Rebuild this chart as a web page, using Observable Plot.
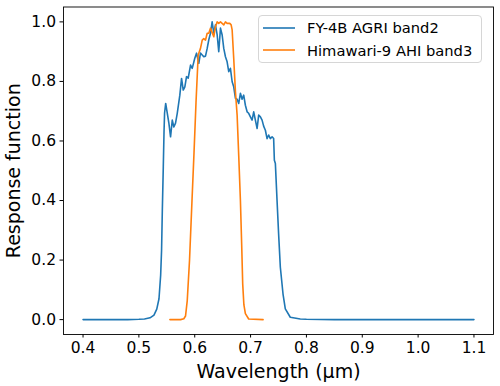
<!DOCTYPE html>
<html>
<head>
<meta charset="utf-8">
<script src="https://cdn.jsdelivr.net/npm/d3@7"></script>
<script src="https://cdn.jsdelivr.net/npm/@observablehq/plot@0.6"></script>
<style>
  html, body { margin: 0; padding: 0; background: #fff; }
  #wrap { position: relative; width: 500px; height: 386px; font-family: "DejaVu Sans", sans-serif; }
  #legend { position: absolute; left: 258px; top: 15px; width: 222px; height: 46px;
    border: 1px solid #d6d6d6; border-radius: 4px; background: rgba(255,255,255,0.8); }
  .row { position: absolute; left: 0; height: 20px; display: flex; align-items: center; font-size: 14.7px; color: #000; white-space: nowrap; }
  .row svg { margin-left: 4px; margin-right: 12px; }
</style>
</head>
<body>
<div id="wrap"></div>
<script>
// ---- data ----
const seriesNames = ["FY-4B AGRI band2", "Himawari-9 AHI band3"];
const seriesColors = ["#1f77b4", "#ff7f0e"];

const fyWavelength = [0.400, 0.450, 0.480, 0.500, 0.510, 0.520, 0.527, 0.532, 0.536, 0.539, 0.5406, 0.542, 0.5437, 0.545, 0.546, 0.548,
  0.5537, 0.5567, 0.5598, 0.5626, 0.5656, 0.5687, 0.5733, 0.5764, 0.5794, 0.5823, 0.5853, 0.5883, 0.5925, 0.5955,
  0.6001, 0.6032, 0.6073, 0.6103, 0.6134, 0.6162, 0.6193, 0.6223, 0.6252, 0.6282, 0.6312, 0.6341, 0.6371, 0.6402,
  0.6430, 0.6461, 0.6491, 0.6520, 0.6550, 0.6580, 0.6609, 0.6639, 0.6670, 0.6698, 0.6729, 0.6759, 0.6788, 0.6818,
  0.6848, 0.6877, 0.6907, 0.6938, 0.6966, 0.6997, 0.7027, 0.7056, 0.7086, 0.7117, 0.7145, 0.7176, 0.7206, 0.7234,
  0.7265, 0.7295, 0.7324, 0.7354, 0.7385, 0.7413, 0.7426, 0.7444, 0.7474, 0.7502, 0.7533, 0.7581, 0.7622, 0.7711,
  0.789, 0.800, 0.850, 0.900, 1.000, 1.100];
const fyResponse = [0.000, 0.000, 0.000, 0.001, 0.002, 0.006, 0.015, 0.035, 0.070, 0.150, 0.232, 0.370, 0.513, 0.630, 0.694, 0.726,
  0.660, 0.614, 0.670, 0.647, 0.660, 0.693, 0.754, 0.810, 0.771, 0.782, 0.816, 0.811, 0.855, 0.844,
  0.878, 0.895, 0.861, 0.895, 0.889, 0.883, 0.885, 0.911, 0.940, 0.962, 1.000, 0.962, 0.990, 0.956,
  0.900, 0.979, 0.956, 0.911, 0.883, 0.866, 0.833, 0.844, 0.799, 0.782, 0.743, 0.740, 0.726, 0.760,
  0.740, 0.754, 0.720, 0.698, 0.693, 0.681, 0.670, 0.698, 0.670, 0.642, 0.687, 0.681, 0.670, 0.650,
  0.636, 0.608, 0.620, 0.608, 0.614, 0.608, 0.535, 0.524, 0.400, 0.288, 0.176, 0.086, 0.036, 0.008,
  0.002, 0.001, 0.000, 0.000, 0.000, 0.000];

const ahiWavelength = [0.5555, 0.5746, 0.5805, 0.5835, 0.5866, 0.5907, 0.5951, 0.5987, 0.6023, 0.6062, 0.6103, 0.6134,
  0.6162, 0.6193, 0.6223, 0.6252, 0.6282, 0.6341, 0.6371, 0.6402, 0.6430, 0.6461, 0.6491, 0.6520, 0.6550, 0.6580,
  0.6627, 0.6652, 0.6670, 0.6698, 0.6729, 0.6759, 0.6788, 0.6818, 0.6841, 0.6859, 0.6880, 0.6907, 0.6966, 0.7224];
const ahiResponse = [0.000, 0.000, 0.003, 0.012, 0.064, 0.200, 0.400, 0.560, 0.730, 0.889, 0.911, 0.939,
  0.944, 0.939, 0.962, 0.962, 0.979, 0.950, 0.984, 1.000, 0.995, 1.000, 0.995, 0.990, 1.000, 0.995,
  0.995, 0.990, 0.973, 0.878, 0.765, 0.687, 0.550, 0.400, 0.250, 0.120, 0.050, 0.020, 0.002, 0.000];

const xTicks = [0.4, 0.5, 0.6, 0.7, 0.8, 0.9, 1.0, 1.1];
const yTicks = [0.0, 0.2, 0.4, 0.6, 0.8, 1.0];

// ---- build table ----
const rows = [
  ...fyWavelength.map((w, i) => ({series: seriesNames[0], w, r: fyResponse[i]})),
  ...ahiWavelength.map((w, i) => ({series: seriesNames[1], w, r: ahiResponse[i]}))
];

const chart = Plot.plot({
  width: 500,
  height: 386,
  marginLeft: 63,
  marginRight: 7,
  marginTop: 6.5,
  marginBottom: 52,
  style: {fontFamily: "DejaVu Sans, sans-serif", fontSize: "15.5px", background: "#fff", color: "#000", overflow: "visible"},
  x: {domain: [0.365, 1.135]},
  y: {domain: [-0.05, 1.05]},
  color: {domain: seriesNames, range: seriesColors},
  marks: [
    Plot.line(rows, {x: "w", y: "r", z: "series", stroke: "series", strokeWidth: 1.6}),
    Plot.frame({stroke: "#000", strokeWidth: 0.9}),
    Plot.axisX({ticks: xTicks, tickFormat: d3.format(".1f"), tickSize: 3.5, tickPadding: 4, fontSize: 15.5,
      label: "Wavelength (μm)", labelAnchor: "center", labelOffset: 43, labelArrow: "none"}),
    Plot.axisY({ticks: yTicks, tickFormat: d3.format(".1f"), tickSize: 3.5, tickPadding: 4, fontSize: 15.5,
      label: "Response function", labelAnchor: "center", labelOffset: 57, labelArrow: "none"})
  ]
});
chart.querySelectorAll('[aria-label="x-axis label"] text, [aria-label="y-axis label"] text').forEach(t => t.style.fontSize = "19px");

const wrap = document.getElementById("wrap");
wrap.appendChild(chart);

// legend
const legend = document.createElement("div");
legend.id = "legend";
seriesNames.forEach((name, i) => {
  const row = document.createElement("div");
  row.className = "row";
  row.style.top = (i === 0 ? 1.7 : 24) + "px";
  row.innerHTML = `<svg width="32" height="4"><line x1="0" x2="32" y1="2" y2="2" stroke="${seriesColors[i]}" stroke-width="1.6"/></svg><span>${name}</span>`;
  legend.appendChild(row);
});
wrap.appendChild(legend);
</script>
</body>
</html>
